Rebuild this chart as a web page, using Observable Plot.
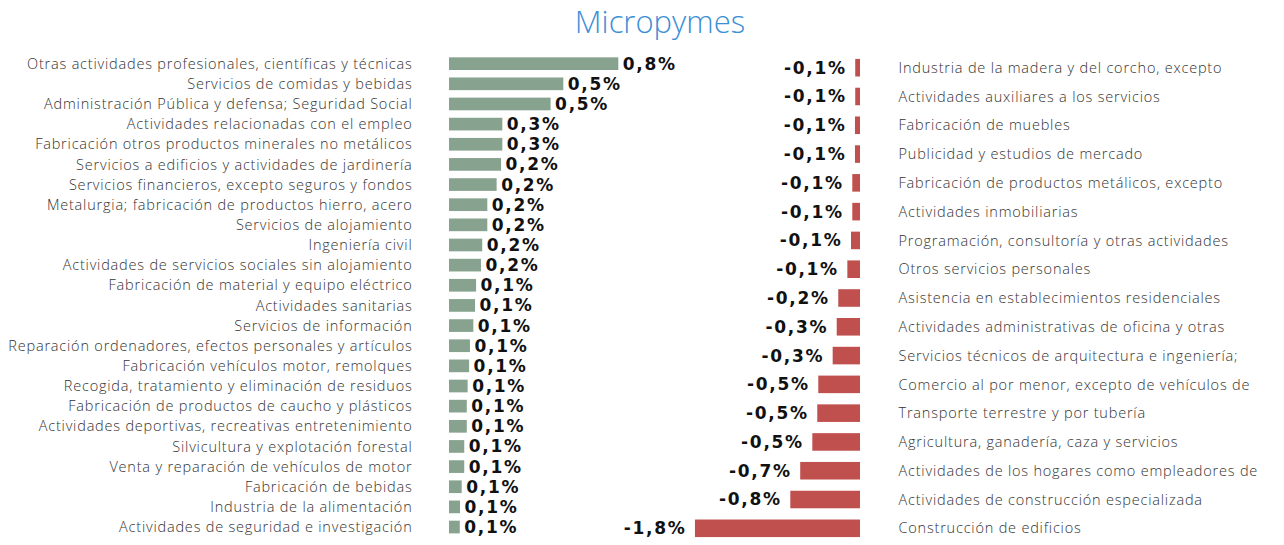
<!DOCTYPE html>
<html>
<head>
<meta charset="utf-8">
<script src="https://cdn.jsdelivr.net/npm/d3@7"></script>
<script src="https://cdn.jsdelivr.net/npm/@observablehq/plot@0.6"></script>
<style>
  html, body { margin: 0; padding: 0; background: #fff; }
  #wrap { position: relative; width: 1284px; height: 545px; overflow: hidden; }
  #title { position: absolute; left: 540px; width: 240px; top: 0px; text-align: center;
           font-family: "Open Sans", "Liberation Sans", sans-serif; font-weight: 300;
           font-size: 31px; color: #3b8fd5; line-height: 42px; }
  .panel { position: absolute; top: 0; line-height: 0; }
  .panel svg { overflow: visible; display: block; }
  .val text { letter-spacing: 1.7px; }
  .cat text { letter-spacing: 0.8px; }
</style>
</head>
<body>
<div id="wrap">
  <div id="title">Micropymes</div>
  <div id="left" class="panel" style="left:0px"></div>
  <div id="right" class="panel" style="left:600px"></div>
</div>
<script>
const posCategories = [
  "Otras actividades profesionales, científicas y técnicas",
  "Servicios de comidas y bebidas",
  "Administración Pública y defensa; Seguridad Social",
  "Actividades relacionadas con el empleo",
  "Fabricación otros productos minerales no metálicos",
  "Servicios a edificios y actividades de jardinería",
  "Servicios financieros, excepto seguros y fondos",
  "Metalurgia; fabricación de productos hierro, acero",
  "Servicios de alojamiento",
  "Ingeniería civil",
  "Actividades de servicios sociales sin alojamiento",
  "Fabricación de material y equipo eléctrico",
  "Actividades sanitarias",
  "Servicios de información",
  "Reparación ordenadores, efectos personales y artículos",
  "Fabricación vehículos motor, remolques",
  "Recogida, tratamiento y eliminación de residuos",
  "Fabricación de productos de caucho y plásticos",
  "Actividades deportivas, recreativas entretenimiento",
  "Silvicultura y explotación forestal",
  "Venta y reparación de vehículos de motor",
  "Fabricación de bebidas",
  "Industria de la alimentación",
  "Actividades de seguridad e investigación"
];
const posValues = [0.80, 0.54, 0.48, 0.252, 0.252, 0.246, 0.225, 0.181, 0.181, 0.157, 0.151, 0.128,
                   0.123, 0.115, 0.099, 0.095, 0.088, 0.084, 0.084, 0.072, 0.072, 0.060, 0.052, 0.051];

const negCategories = [
  "Industria de la madera y del corcho, excepto",
  "Actividades auxiliares a los servicios",
  "Fabricación de muebles",
  "Publicidad y estudios de mercado",
  "Fabricación de productos metálicos, excepto",
  "Actividades inmobiliarias",
  "Programación, consultoría y otras actividades",
  "Otros servicios personales",
  "Asistencia en establecimientos residenciales",
  "Actividades administrativas de oficina y otras",
  "Servicios técnicos de arquitectura e ingeniería;",
  "Comercio al por menor, excepto de vehículos de",
  "Transporte terrestre y por tubería",
  "Agricultura, ganadería, caza y servicios",
  "Actividades de los hogares como empleadores de",
  "Actividades de construcción especializada",
  "Construcción de edificios"
];
const negValues = [-0.052, -0.052, -0.055, -0.055, -0.084, -0.084, -0.098, -0.138, -0.237, -0.254,
                   -0.298, -0.455, -0.466, -0.52, -0.652, -0.76, -1.80];

const posData = posCategories.map((c, i) => ({cat: c, v: posValues[i]}));
const negData = negCategories.map((c, i) => ({cat: c, v: negValues[i]}));
const fmt = v => v.toFixed(1).replace(".", ",") + "%";

const catFont = {fontFamily: "'Open Sans', 'Liberation Sans', sans-serif", fontSize: 14.5, fontWeight: 300, fill: "#333", className: "cat"};
const valFont = {fontFamily: "'DejaVu Sans', sans-serif", fontSize: 17, fontWeight: "bold", fill: "#111", className: "val"};

const left = Plot.plot({
  width: 760, height: 545,
  marginLeft: 449, marginRight: 57, marginTop: 53.6, marginBottom: 7.9,
  x: {domain: [0, 1.2], axis: null},
  y: {domain: posCategories, paddingInner: 0.37, paddingOuter: 0.185, round: false, axis: null},
  style: {background: "transparent"},
  marks: [
    Plot.barX(posData, {x: "v", y: "cat", fill: "#87a38f"}),
    Plot.axisY({tickSize: 0, tickPadding: 37, anchor: "left", label: null, ...catFont}),
    Plot.text(posData, {x: "v", y: "cat", text: d => fmt(d.v), textAnchor: "start", dx: 4, ...valFont})
  ]
});
document.getElementById("left").appendChild(left);

const right = Plot.plot({
  width: 684, height: 545,
  marginLeft: 76.6, marginRight: 424, marginTop: 53.3, marginBottom: 2.3,
  x: {domain: [-2, 0], axis: null},
  y: {domain: negCategories, paddingInner: 0.39, paddingOuter: 0.195, round: false, axis: null},
  style: {background: "transparent"},
  marks: [
    Plot.barX(negData, {x: "v", y: "cat", fill: "#c0504d"}),
    Plot.axisY({tickSize: 0, tickPadding: 38, anchor: "right", label: null, ...catFont}),
    Plot.text(negData, {x: "v", y: "cat", text: d => fmt(d.v), textAnchor: "end", dx: -9, ...valFont})
  ]
});
document.getElementById("right").appendChild(right);
</script>
</body>
</html>
